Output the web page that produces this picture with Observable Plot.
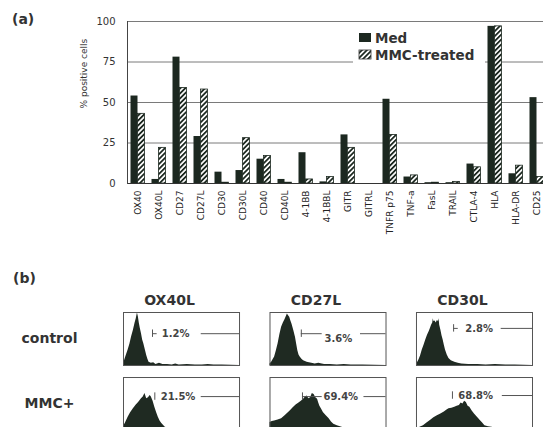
<!DOCTYPE html>
<html><head><meta charset="utf-8">
<script src="https://cdn.jsdelivr.net/npm/d3@7"></script>
<script src="https://cdn.jsdelivr.net/npm/@observablehq/plot@0.6"></script>
<style>
html,body{margin:0;padding:0;background:#fff;overflow:hidden;width:543px;height:427px}
#wrap{position:relative;width:543px;height:427px;font-family:"DejaVu Sans",sans-serif;overflow:hidden}
.panel{position:absolute;left:0}
.lab{position:absolute;font-weight:bold;font-size:14px;color:#333;z-index:2}
</style></head><body>
<div id="wrap">
<div id="a" class="panel" style="top:0"></div>
<div id="b" class="panel" style="top:265px"></div>
<div class="lab" style="left:12px;top:11px">(a)</div>
<div class="lab" style="left:13px;top:270px">(b)</div>
</div>
<script>
// ---------- Panel (a) data ----------
const categories = ["OX40","OX40L","CD27","CD27L","CD30","CD30L","CD40","CD40L","4-1BB","4-1BBL","GITR","GITRL","TNFR p75","TNF-a","FasL","TRAIL","CTLA-4","HLA","HLA-DR","CD25"];
const medValues = [54,2.5,78,29,7,8,15,2.5,19,1,30,0,52,4,0.5,0.5,12,97,6,53];
const mmcValues = [43,22,59,58,0.5,28,17,0.5,2.5,4,22,0,30,5,0.5,1,10,97,11,4];
const yTicks = [0,25,50,75,100];
const gridValues = [25,50,75,100];
const seriesNames = ["Med","MMC-treated"];
const yLabel = "% positive cells";

// ---------- Panel (b) data ----------
const markers = ["OX40L","CD27L","CD30L"];
const conditions = ["control","MMC+"];
const histCtlOX40L = [[0,3],[1.5,13],[4,29],[5.5,40],[7,54],[8.5,66],[10,80],[11,88],[12,99],[12.8,92],[13.6,80],[14.5,70],[15.5,60],[16.5,48],[17.5,41],[19,28],[20,19],[21,12],[22,6],[24,4],[26,5],[28,2],[31,4],[34,2],[38,2],[42,1],[45,3],[48,1],[55,2],[62,1],[68,1],[73,2],[78,1],[85,1],[100,0]];
const histCtlCD27L = [[0,3],[1.4,6],[4,16],[5.5,28],[7,41],[8.5,58],[10,72],[11.5,80],[13,87],[14,92],[15,97],[16,94],[17,91],[18,84],[19,78],[20.5,66],[22,53],[23,40],[24,28],[25,20],[26,16],[27.5,12],[29,9],[32,6],[34,5],[36,4],[39,3],[42,4],[45,3],[47,2],[52,2],[58,1],[64,2],[70,1],[80,1],[100,0]];
const histCtlCD30L = [[0,2],[2,10],[3.5,18],[5,29],[6.5,38],[8,48],[9.5,57],[11,64],[12,70],[13,76],[14,80],[14.5,88],[15,83],[16,84],[17,80],[18,85],[19,83],[19.5,88],[20,76],[21,67],[22,56],[23,48],[24,38],[25,29],[26.5,20],[28,13],[30,9],[33,6],[36,4],[39,3],[45,2],[53,2],[60,1],[68,2],[77,1],[85,1],[100,0]];
const histMmcOX40L = [[0,8],[1.5,13],[4,25],[6,33],[8.5,41],[11,48],[13,53],[15.5,60],[17,63],[18.5,70],[20,60],[21.5,62],[23,66],[24,63],[25.5,55],[27,44],[28.5,34],[30,25],[31.5,18],[33,13],[36,6],[40,4],[45,3],[50,2],[60,1],[75,1],[100,0]];
const histMmcCD27L = [[0,15],[2,17],[4,18],[7,20],[10,22],[13,28],[16,34],[18,38],[20,43],[22.5,48],[25,52],[27,55],[29,59],[30.5,63],[32,65],[33.5,60],[35,62],[36.5,70],[38,68],[39.5,62],[41,59],[42,52],[43,46],[44.5,40],[46,34],[48.5,28],[51,22],[53,16],[55,12],[58,9],[62,6],[66,4],[70,3],[76,2],[85,1],[100,0]];
const histMmcCD30L = [[0,3],[3,6],[6,9],[9,14],[12,19],[15,24],[18,28],[21,31],[24,35],[26,38],[28,41],[30.5,42],[33,44],[35,46],[37,47],[38.5,52],[40,50],[41.5,55],[43,53],[44.5,46],[46,44],[48,37],[50,31],[52.5,25],[55,19],[57,14],[59,9],[62,7],[65,6],[70,4],[74,3],[80,2],[90,1],[100,0]];
const gateMarker = ["OX40L","CD27L","CD30L","OX40L","CD27L","CD30L"];
const gateCond = ["control","control","control","MMC+","MMC+","MMC+"];
const gateText = ["1.2%","3.6%","2.8%","21.5%","69.4%","68.8%"];
const gateTickX = [25,27,32,27,28,31];
const gateLeftEnd = [29,45,36,27,45,31];
const gateRightStart = [67,78,73,67,81,74];
const gateY = [60,60,70,64,64,66];
const gateTextX = [45,59,54,47,61,51];
const gateTextY = [60,51,70,64,64,66];

// ---------- Panel (a) ----------
const barTable = categories.map((c,i)=>({cat:c, med:medValues[i], mmc:mmcValues[i]}));
const dark = "#1c2820";
const chartA = Plot.plot({
  width:543, height:265, marginTop:21, marginBottom:82, marginLeft:127, marginRight:-4,
  style:{fontFamily:"DejaVu Sans", fontSize:"10px", background:"white", color:"#333"},
  x:{domain:categories, paddingInner:1/3, paddingOuter:1/6, round:false},
  y:{domain:[0,100]},
  marks:[
    Plot.ruleY(gridValues,{stroke:"#7a7a7a", strokeWidth:1}),
    Plot.barY(barTable,{x:"cat", y:"med", fill:dark, insetRight:7}),
    Plot.barY(barTable,{x:"cat", y:"mmc", fill:"url(#hatch)", stroke:dark, strokeWidth:0.8, insetLeft:7}),
    Plot.ruleY([0],{stroke:"#333"}),
    Plot.frame({anchor:"left", stroke:"#444"}),
    Plot.axisY({ticks:yTicks, tickSize:0, tickPadding:12, label:null, fontSize:10, fill:"#333"}),
    Plot.axisX({tickSize:0, tickRotate:-90, tickPadding:7, label:null, fontSize:9, fill:"#222"}),
    Plot.text([yLabel],{text:d=>d, frameAnchor:"left", rotate:-90, dx:-43, dy:6, fontSize:9, fill:"#333"})
  ]
});
document.getElementById("a").appendChild(chartA);
const svgA = d3.select(chartA.tagName.toLowerCase()==="svg" ? chartA : chartA.querySelector("svg"));
svgA.insert("defs",":first-child").html(
  '<pattern id="hatch" patternUnits="userSpaceOnUse" width="3.5" height="3.5" patternTransform="rotate(45)">' +
  '<rect width="3.5" height="3.5" fill="white"/><line x1="0.9" y1="0" x2="0.9" y2="3.5" stroke="#1c2820" stroke-width="1.8"/></pattern>');
// legend (white box behind it interrupts the 75 gridline, drawn beneath the bars)
const firstBars = svgA.select("g[aria-label='bar']").node();
svgA.insert("rect", () => firstBars).attr("x",353).attr("y",27).attr("width",132).attr("height",38).attr("fill","white");
const lg = svgA.append("g").attr("font-family","DejaVu Sans").attr("font-weight","bold").attr("font-size","13.5px").attr("fill","#333").attr("text-anchor","start");
seriesNames.forEach((name,i)=>{
  const y0 = 33 + i*17;
  lg.append("rect").attr("x",359).attr("y",y0).attr("width",12).attr("height",9)
    .attr("fill", i===0 ? dark : "url(#hatch)").attr("stroke", i===0 ? "none" : "#333").attr("stroke-width",0.8);
  lg.append("text").attr("x",375).attr("y",y0+9.5).attr("text-anchor","start").text(name);
});

// ---------- Panel (b) ----------
const histSets = [
  ["OX40L","control",histCtlOX40L],["CD27L","control",histCtlCD27L],["CD30L","control",histCtlCD30L],
  ["OX40L","MMC+",histMmcOX40L],["CD27L","MMC+",histMmcCD27L],["CD30L","MMC+",histMmcCD30L]
];
const histRows = histSets.flatMap(([m,c,arr])=>arr.map(([x,y])=>({marker:m, cond:c, key:m+c, x, y})));
const gates = gateMarker.map((m,i)=>({marker:m, cond:gateCond[i], text:gateText[i], tx:gateTickX[i], le:gateLeftEnd[i], rs:gateRightStart[i], y:gateY[i], lx:gateTextX[i], ly:gateTextY[i]}));
const chartB = Plot.plot({
  width:543, height:167, marginTop:47, marginBottom:2, marginLeft:123, marginRight:11,
  style:{fontFamily:"DejaVu Sans", fontSize:"10px", background:"white", color:"#333"},
  x:{domain:[0,100], axis:null}, y:{domain:[0,100], axis:null},
  fx:{domain:markers, paddingInner:0.208, paddingOuter:0, round:false},
  fy:{domain:conditions, paddingInner:0.185, paddingOuter:0, round:false},
  marks:[
    Plot.areaY(histRows,{x:"x", y:"y", z:"key", fx:"marker", fy:"cond", fill:"#1f2a22", curve:"linear"}),
    Plot.ruleY(gates,{x1:"tx", x2:"le", y:"y", fx:"marker", fy:"cond", stroke:"#555", strokeWidth:1}),
    Plot.ruleY(gates,{x1:"rs", x2:100, y:"y", fx:"marker", fy:"cond", stroke:"#555", strokeWidth:1}),
    Plot.ruleX(gates,{x:"tx", y1:d=>d.y-7, y2:d=>d.y+7, fx:"marker", fy:"cond", stroke:"#555", strokeWidth:1}),
    Plot.text(gates,{x:"lx", y:"ly", text:"text", fx:"marker", fy:"cond", fontSize:10, fontWeight:"bold", fill:"#444"}),
    Plot.frame({stroke:"#555"}),
    Plot.axisFx({anchor:"top", tickSize:0, tickPadding:8, fontSize:14, fontWeight:"bold", dx:-12, label:null, fill:"#333"}),
    Plot.axisFy({anchor:"left", tickSize:0, fontSize:14, fontWeight:"bold", textAnchor:"middle", dx:-65, label:null, fill:"#333"})
  ]
});
document.getElementById("b").appendChild(chartB);
</script>
</body></html>
